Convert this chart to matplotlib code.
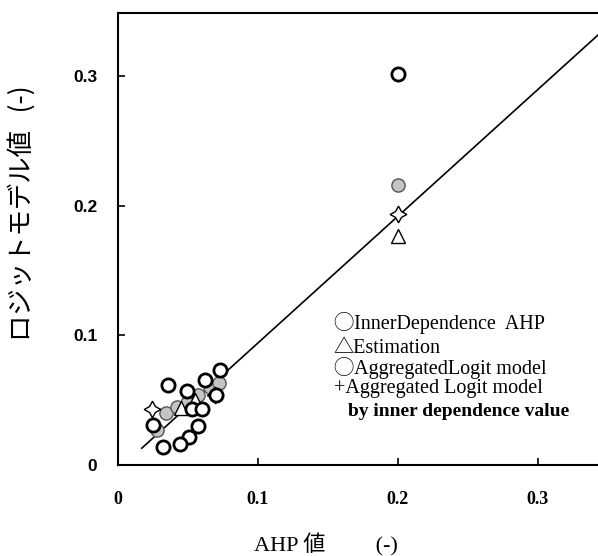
import matplotlib.pyplot as plt

ahp_x = [0.2, 0.073, 0.036, 0.062, 0.049, 0.053, 0.060, 0.057, 0.051, 0.044, 0.032, 0.025, 0.070]
ahp_y = [0.302, 0.073, 0.062, 0.066, 0.057, 0.043, 0.043, 0.030, 0.022, 0.016, 0.014, 0.031, 0.054]

logit_x = [0.2, 0.028, 0.034, 0.042, 0.049, 0.057, 0.066, 0.072]
logit_y = [0.216, 0.027, 0.040, 0.045, 0.048, 0.054, 0.060, 0.063]

est_x = [0.2, 0.045, 0.055]
est_y = [0.177, 0.044, 0.050]

inner_x = [0.2, 0.024, 0.069]
inner_y = [0.194, 0.043, 0.054]

line_x = [0.017, 0.343]
line_y = [0.013, 0.332]

xticks = [0, 0.1, 0.2, 0.3]
yticks = [0, 0.1, 0.2, 0.3]
xtick_labels = ["0", "0.1", "0.2", "0.3"]
ytick_labels = ["0", "0.1", "0.2", "0.3"]

legend_lines = ["◯InnerDependence  AHP", "△Estimation", "◯AggregatedLogit model",
                "+Aggregated Logit model", "by inner dependence value"]

fig = plt.figure(figsize=(5.98, 5.56), dpi=100)
ax = fig.add_axes([118/598, 91/556, 480/598, 452/556])

ax.plot(line_x, line_y, color="black", lw=1.2, zorder=1)
ax.plot(logit_x, logit_y, "o", ms=9.5, mfc="#c4c4c4", mec="#555555", mew=1.0, zorder=2)
ax.plot(est_x, est_y, "^", ms=10, mfc="white", mec="black", mew=1.0, zorder=3)
ax.plot(inner_x, inner_y, marker=(4, 1, 0), ls="none", ms=12, mfc="white", mec="black", mew=1.0, zorder=4)
ax.plot(ahp_x, ahp_y, "o", ms=9.5, mfc="white", mec="black", mew=2.0, zorder=5)

ax.set_xlim(0, 0.343)
ax.set_ylim(0, 0.349)
ax.set_xticks(xticks)
ax.set_yticks(yticks)
ax.set_xticklabels(xtick_labels, fontfamily="Liberation Serif", fontweight="bold", fontsize=13)
ax.set_yticklabels(ytick_labels, fontfamily="Liberation Sans", fontweight="bold", fontsize=12.5)
ax.tick_params(direction="in", length=5, width=1.2)
ax.tick_params(axis="x", pad=19)
ax.tick_params(axis="y", pad=15)
ax.spines["right"].set_visible(False)
for s in ["left", "bottom", "top"]:
    ax.spines[s].set_linewidth(1.5)

ax.set_xlabel("AHP 値　　 (-)", fontsize=16, family=["Liberation Serif", "Noto Sans CJK JP"])
ax.xaxis.set_label_coords((326 - 118) / 480, (465 - 545) / 452)
ax.xaxis.label.set_va("center")
ax.set_ylabel("ロジットモデル値   (-)", fontsize=19, family=["Noto Sans CJK JP"])
ax.yaxis.set_label_coords((22 - 118) / 480, (465 - 213) / 452)
ax.yaxis.label.set_va("center")

leg_y = [0.110, 0.090, 0.075, 0.059, 0.041]
leg_x = [0.154, 0.154, 0.154, 0.154, 0.164]
leg_size = [14.5, 14.5, 14.5, 14.5, 14]
leg_weight = ["normal", "normal", "normal", "normal", "bold"]
for tx, ty, t, fs, fw in zip(leg_x, leg_y, legend_lines, leg_size, leg_weight):
    ax.text(tx, ty, t, fontsize=fs, family=["Liberation Serif", "Noto Sans CJK JP"],
            fontweight=fw, va="center")

fig.savefig("out.png", dpi=100)
